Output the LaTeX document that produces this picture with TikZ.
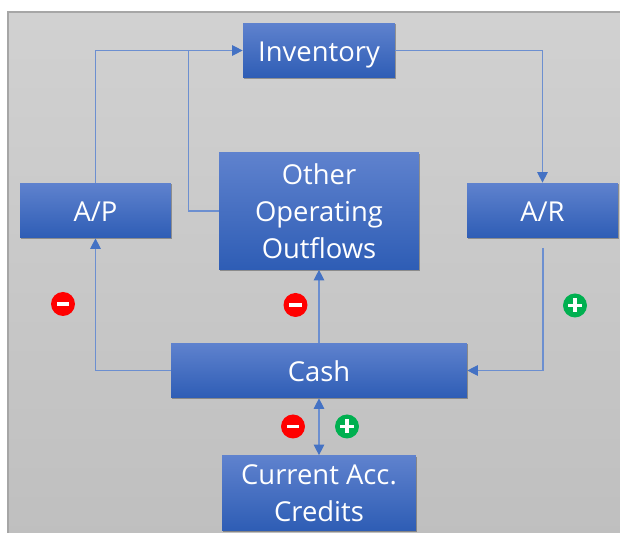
\documentclass[tikz,border=0pt]{standalone}
\usepackage{fontspec}
\setmainfont{Open Sans}
\usetikzlibrary{arrows.meta,shadows}
\definecolor{boxtop}{HTML}{5F82CE}
\definecolor{boxmid}{HTML}{3F6FCB}
\definecolor{boxlow}{HTML}{2E5DB5}
\definecolor{flowline}{HTML}{6C8FD0}
\definecolor{flowtip}{HTML}{4472C4}
\definecolor{plusgreen}{HTML}{00B050}
\tikzset{
  box/.style={rectangle,top color=boxtop,middle color=boxmid,bottom color=boxlow,
    text=white,font=\fontsize{15.6pt}{21pt}\selectfont,align=center,inner sep=0pt,
    drop shadow={shadow xshift=0.6pt,shadow yshift=-0.7pt,opacity=.3,fill=black}},
  oneline/.style={box,text height=12pt,text depth=0pt},
  flow/.style={draw=flowline,line width=0.6pt,-{Triangle[length=6pt,width=6pt,color=flowtip]}},
  flowplain/.style={draw=flowline,line width=0.6pt},
  flowboth/.style={draw=flowline,line width=0.6pt,{Triangle[length=6pt,width=6pt,color=flowtip]}-{Triangle[length=6pt,width=6pt,color=flowtip]}},
  badge/.style={circle,minimum size=0.48cm,inner sep=0pt},
  badgeminus/.style={badge,fill=red,path picture={
      \fill[white] ([xshift=-0.13cm,yshift=-0.035cm]path picture bounding box.center) rectangle ([xshift=0.13cm,yshift=0.035cm]path picture bounding box.center);}},
  badgeplus/.style={badge,fill=plusgreen,path picture={
      \fill[white] ([xshift=-0.14cm,yshift=-0.035cm]path picture bounding box.center) rectangle ([xshift=0.14cm,yshift=0.035cm]path picture bounding box.center);
      \fill[white] ([xshift=-0.035cm,yshift=-0.14cm]path picture bounding box.center) rectangle ([xshift=0.035cm,yshift=0.14cm]path picture bounding box.center);}}
}
\begin{document}
\begin{tikzpicture}[x=0.02cm,y=-0.02cm]
        \useasboundingbox (0,0) rectangle (620,533) ;
        \fill[white] (0,0) rectangle (620,533) ;
        \shade[top color=black!18,bottom color=black!25] (8,12) rectangle (620,533) ;
        \draw[black!35,line width=0.6pt] (620,12) -- (8,12) -- (8,533) ;
        % boxes
        \node[oneline,minimum width=3.04cm,minimum height=1.1cm] (invbox) at (319,50.5) {Inventory} ;
        \node[box,minimum width=4cm,minimum height=2.34cm] (otherbox) at (319,211) {Other\\Operating\\Outflows} ;
        \node[oneline,minimum width=3.02cm,minimum height=1.1cm] (apbox) at (95.5,210.5) {A/P} ;
        \node[oneline,minimum width=3.02cm,minimum height=1.1cm] (arbox) at (542.5,210.5) {A/R} ;
        \node[oneline,minimum width=5.92cm,minimum height=1.1cm] (cashbox) at (319,370.5) {Cash} ;
        \node[box,minimum width=3.88cm,minimum height=1.5cm] (creditbox) at (319,493) {Current Acc.\\Credits} ;
        % connectors
        \coordinate (joinpt) at (188.5,51) ;
        \coordinate (arfree) at (543,248) ;
        \draw[flow] (apbox.north) |- (invbox.west) ;
        \draw[flowplain] (otherbox.west) -| (joinpt) ;
        \draw[flow] (invbox.east) -| (arbox.north) ;
        \draw[flow] (arfree) |- (cashbox.east) ;
        \draw[flow] (cashbox.west) -| (apbox.south) ;
        \draw[flow] (cashbox.north) -- (otherbox.south) ;
        \draw[flowboth] (cashbox.south) -- (creditbox.north) ;
        % signs
        \node[badgeminus] (apsign) at (63,304) {} ;
        \node[badgeminus] (othersign) at (295.5,305) {} ;
        \node[badgeminus] (outsign) at (293,426.5) {} ;
        \node[badgeplus] (arsign) at (575,305.5) {} ;
        \node[badgeplus] (insign) at (347,426.5) {} ;
      \end{tikzpicture}
\end{document}
